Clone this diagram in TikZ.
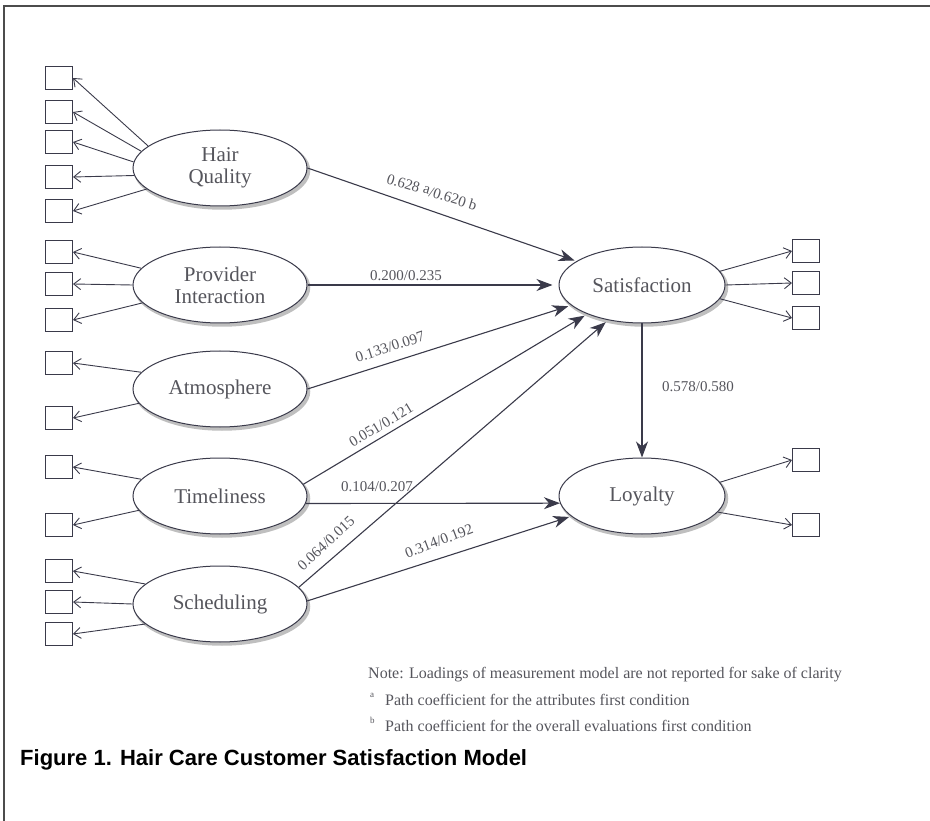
\documentclass[tikz,border=0pt]{standalone}
\usepackage{fontspec}
\setmainfont{Liberation Serif}
\newfontfamily\capfont{Liberation Sans}
\usetikzlibrary{arrows.meta,shapes.geometric}
\definecolor{ink}{RGB}{58,58,74}
\definecolor{txt}{RGB}{85,85,92}
\begin{document}
\begin{tikzpicture}[x=1pt,y=-1pt,
  latent/.style={ellipse, draw=ink, line width=1pt, minimum width=174pt, minimum height=76pt, inner sep=0pt, fill=white,
    font=\fontsize{21}{22}\selectfont, text=txt, align=center,
    preaction={draw=black!25, line width=2.5pt, fill=black!25, transform canvas={xshift=2pt,yshift=-2.5pt}}},
  latentr/.style={latent, minimum width=166pt},
  ind/.style={draw=ink, line width=1pt, minimum width=27pt, minimum height=23pt, inner sep=0pt},
  load/.style={draw=ink, line width=0.9pt, -{Straight Barb[length=7pt,width=11pt,line width=0.9pt]}},
  pth/.style={draw=ink, line width=1.1pt, -{Stealth[length=16pt,width=12pt,inset=5pt]}},
  coef/.style={font=\fontsize{15}{16}\selectfont, text=txt, inner sep=1pt},
  note/.style={font=\fontsize{16}{18}\selectfont, text=txt, anchor=base west, inner sep=0pt},
  frameline/.style={draw=black!70, line width=1.5pt}
]
\useasboundingbox (0,0) rectangle (930,821);
\coordinate (fa) at (4,821);
\coordinate (fb) at (4,6);
\coordinate (fc) at (930,6);
\draw[frameline] (fa) -- (fb) -- (fc);

% latent variables
\node[latent] (hq) at (220,168) {Hair\\Quality};
\node[latent] (pi) at (220,285) {Provider\\Interaction};
\node[latent] (atm) at (220,389) {Atmosphere};
\node[latent] (tim) at (220,496) {Timeliness};
\node[latent] (sch) at (220,604) {Scheduling};
\node[latentr] (sat) at (642,285) {Satisfaction};
\node[latentr] (loy) at (642,496) {Loyalty};

% indicators
\foreach \n/\y in {h1/78,h2/112,h3/142,h4/177,h5/211,p1/252,p2/284,p3/320,a1/363,a2/418,t1/467,t2/525,s1/571,s2/602,s3/634}
  \node[ind] (\n) at (59,\y) {};
\foreach \n/\y in {r1/251,r2/283,r3/318,l1/460,l2/525}
  \node[ind] (\n) at (806,\y) {};

% loadings
\draw[load] (hq.163) -- (h1.east);
\draw[load] (hq.168) -- (h2.east);
\draw[load] (hq.176) -- (h3.east);
\draw[load] (hq.185) -- (h4.east);
\draw[load] (hq.196) -- (h5.east);
\draw[load] (pi.168) -- (p1.east);
\draw[load] (pi.180) -- (p2.east);
\draw[load] (pi.193) -- (p3.east);
\draw[load] (atm.168) -- (a1.east);
\draw[load] (atm.190) -- (a2.east);
\draw[load] (tim.168) -- (t1.east);
\draw[load] (tim.190) -- (t2.east);
\draw[load] (sch.165) -- (s1.east);
\draw[load] (sch.180) -- (s2.east);
\draw[load] (sch.195) -- (s3.east);
\draw[load] (sat.10) -- (r1.west);
\draw[load] (sat.0) -- (r2.west);
\draw[load] (sat.-10) -- (r3.west);
\draw[load] (loy.10) -- (l1.west);
\draw[load] (loy.-12) -- (l2.west);

% structural paths
\draw[pth, shorten >=2pt] (hq.east) -- (sat.160);
\draw[pth, shorten >=6pt] (pi.east) -- (sat.west);
\draw[pth, shorten >=3pt] (atm.east) -- (sat.196);
\draw[pth, shorten >=3pt] (tim.8) -- (sat.208);
\draw[pth, shorten >=3pt] (sch.12) -- (sat.226);
\draw[pth] (tim.355) -- (loy.185);
\draw[pth, shorten >=2pt] (sch.2) -- (loy.196);
\draw[pth] (sat.south) -- (loy.north);

% coefficients
\node[coef, rotate=-17] (c1) at (432,192) {0.628 \raisebox{2pt}{a}/0.620 b};
\node[coef] (c2) at (406,276) {0.200/0.235};
\node[coef, rotate=18] (c3) at (390,347) {0.133/0.097};
\node[coef, rotate=31] (c4) at (381,425) {0.051/0.121};
\node[coef] (c5) at (377,487) {0.104/0.207};
\node[coef, rotate=43] (c6) at (326,543) {0.064/0.015};
\node[coef, rotate=21] (c7) at (439,541) {0.314/0.192};
\node[coef] (c8) at (698,387) {0.578/0.580};

% notes
\node[note] (n0) at (368,678) {Note: Loadings of measurement model are not reported for sake of clarity};
\node[note, font=\fontsize{9}{9}\selectfont] (ma) at (370,697) {a};
\node[note] (n1) at (385,705) {Path coefficient for the attributes first condition};
\node[note, font=\fontsize{9}{9}\selectfont] (mb) at (370,723) {b};
\node[note] (n2) at (385,731) {Path coefficient for the overall evaluations first condition};

\node[anchor=base west, inner sep=0pt, font=\capfont\bfseries\fontsize{22}{24}\selectfont] (cap) at (20,765) {Figure 1. Hair Care Customer Satisfaction Model};
\end{tikzpicture}
\end{document}
